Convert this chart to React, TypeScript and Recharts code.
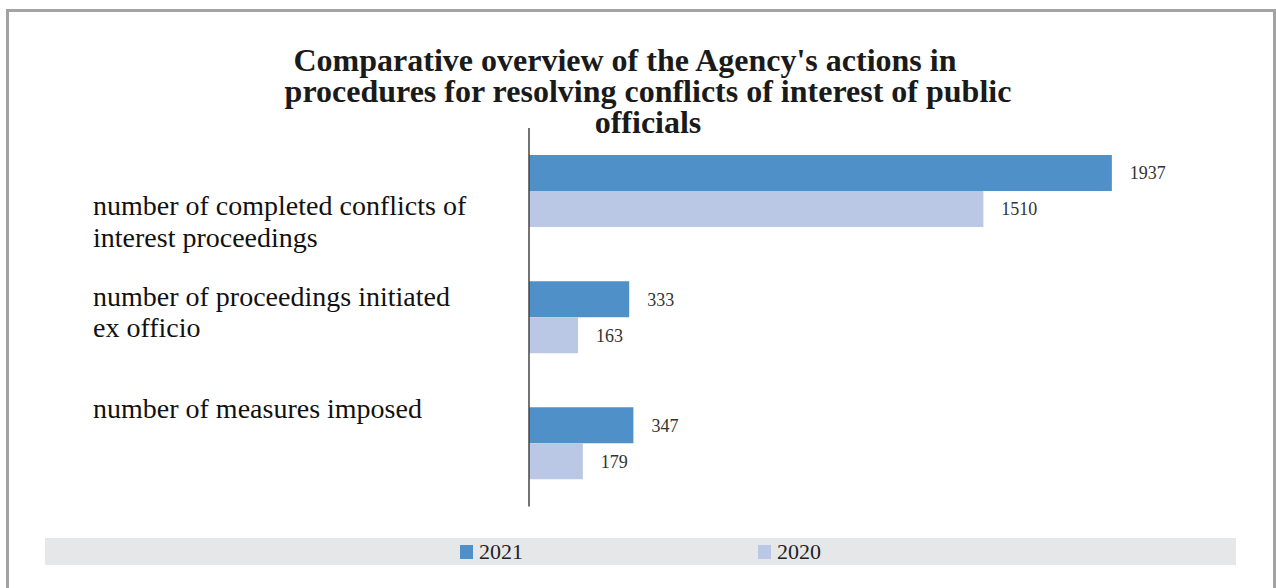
import React from 'react';
import { BarChart, Bar, XAxis, YAxis, Legend, LabelList } from 'recharts';

const categories = [
  'number of completed conflicts of\ninterest proceedings',
  'number of proceedings initiated\nex officio',
  'number of measures imposed',
];
const values2021 = [1937, 333, 347];
const values2020 = [1510, 163, 179];
const seriesNames = ['2021', '2020'];
const seriesColors = ['#4f90c8', '#bac8e6'];

const data = categories.map((name, i) => ({
  name,
  y2021: values2021[i],
  y2020: values2020[i],
}));

const serif = "'Liberation Serif', 'Times New Roman', serif";

// baseline of the first label line, relative to the band centre
const labelShift = [24, -11.5, -25.5];

const CategoryTick = (props: any) => {
  const { y, payload, index } = props;
  const lines = String(payload.value).split('\n');
  return (
    <text x={93} y={y + labelShift[index]} fontSize={28} fill="#111" fontFamily={serif} textAnchor="start">
      {lines.map((l, i) => (
        <tspan key={i} x={93} dy={i === 0 ? 0 : 31.5}>{l}</tspan>
      ))}
    </text>
  );
};

const LegendBox = (props: any) => {
  const items = [...(props.payload || [])].sort(
    (a: any, b: any) => seriesNames.indexOf(a.value) - seriesNames.indexOf(b.value)
  );
  const itemLeft = [415, 713];
  return (
    <div style={{ position: 'relative', width: 1191, height: 27, background: '#e6e7e8' }}>
      {items.map((it: any, i: number) => (
        <div key={it.value} style={{ position: 'absolute', left: itemLeft[i], top: 0, height: 27, display: 'flex', alignItems: 'center' }}>
          <span style={{ display: 'inline-block', width: 13, height: 14, background: it.color, marginRight: 6 }} />
          <span style={{ fontFamily: serif, fontSize: 22, color: '#222', lineHeight: '27px' }}>{it.value}</span>
        </div>
      ))}
    </div>
  );
};

const App = () => {
  return (
    <div style={{ position: 'absolute', left: 0, top: 0, width: 1276, height: 588, background: '#fff' }}>
      <div style={{ position: 'absolute', left: 6, top: 9, width: 1270, height: 579, border: '3px solid #a3a3a3', borderBottom: 'none', boxSizing: 'border-box' }} />
      <div style={{ position: 'absolute', left: 0, top: 45, width: 1296, textAlign: 'center', fontFamily: serif, fontWeight: 'bold', fontSize: 32, lineHeight: '31px', color: '#1a1a1a' }}>
        <div style={{ paddingRight: 46 }}>Comparative overview of the Agency's actions in</div>
        <div>procedures for resolving conflicts of interest of public</div>
        <div>officials</div>
      </div>
      <div style={{ position: 'absolute', left: 0, top: 0 }}>
        <BarChart
          layout="vertical"
          width={1276}
          height={588}
          data={data}
          margin={{ top: 128, right: 85, bottom: 81.5, left: 0 }}
          barGap={0}
        >
          <XAxis type="number" hide domain={[0, 2200]} />
          <YAxis
            type="category"
            dataKey="name"
            width={529}
            tickLine={false}
            axisLine={{ stroke: '#444', strokeWidth: 1.5 }}
            tick={(p: any) => <CategoryTick {...p} />}
          />
          <Legend
            layout="vertical"
            align="center"
            verticalAlign="middle"
            content={<LegendBox />}
            wrapperStyle={{ position: 'absolute', left: 45, top: 538, width: 1191, height: 27 }}
          />
          <Bar dataKey="y2021" name={seriesNames[0]} fill={seriesColors[0]} barSize={36} isAnimationActive={false}>
            <LabelList dataKey="y2021" position="right" offset={18} fill="#333" fontSize={18} fontFamily={serif} />
          </Bar>
          <Bar dataKey="y2020" name={seriesNames[1]} fill={seriesColors[1]} barSize={36} isAnimationActive={false}>
            <LabelList dataKey="y2020" position="right" offset={18} fill="#333" fontSize={18} fontFamily={serif} />
          </Bar>
        </BarChart>
      </div>
    </div>
  );
};

export default App;
